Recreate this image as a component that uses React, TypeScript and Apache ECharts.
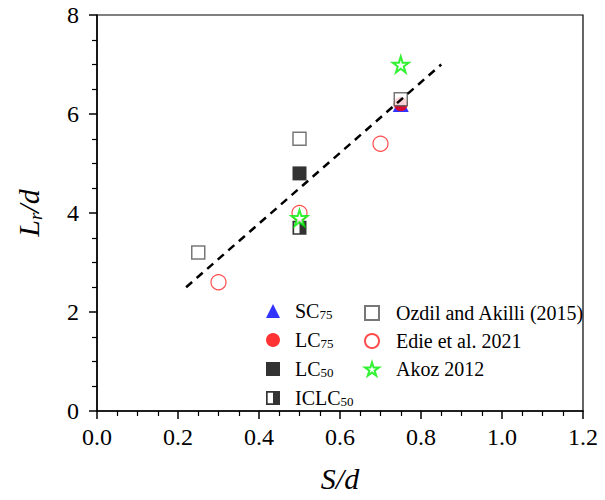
import React, { useEffect, useRef } from 'react';
import * as echarts from 'echarts';

// ---- data ----
const sc75: number[][] = [[0.75, 6.2]];
const lc75: number[][] = [[0.75, 6.2]];
const lc50: number[][] = [[0.5, 4.8]];
const iclc50: number[][] = [[0.5, 3.7]];
const ozdil: number[][] = [[0.25, 3.2], [0.5, 5.5], [0.75, 6.3]];
const edie: number[][] = [[0.3, 2.6], [0.5, 4.0], [0.7, 5.4]];
const akoz: number[][] = [[0.5, 3.9], [0.75, 7.0]];
const fitLine: number[][] = [[0.22, 2.5], [0.85, 7.0]];

const leftLegend = ['SC75', 'LC75', 'LC50', 'ICLC50'];
const rightLegend = ['Ozdil and Akilli (2015)', 'Edie et al. 2021', 'Akoz 2012'];
const legendLabels: Record<string, string> = {
  SC75: '{n|SC}{s|75}',
  LC75: '{n|LC}{s|75}',
  LC50: '{n|LC}{s|50}',
  ICLC50: '{n|ICLC}{s|50}',
  'Ozdil and Akilli (2015)': '{n|Ozdil and Akilli (2015)}',
  'Edie et al. 2021': '{n|Edie et al. 2021}',
  'Akoz 2012': '{n|Akoz 2012}',
};

const FONT = '"Liberation Serif", "Times New Roman", serif';
const HALF_SQ = 'path://M0,0 L10,0 L10,10 L0,10 Z M1.2,1.2 L1.2,8.8 L5,8.8 L5,1.2 Z';
const STAR = 'path://M50,0 L61,35 L98,35 L68,57 L79,91 L50,70 L21,91 L32,57 L2,35 L39,35 Z';

export default function App() {
  const ref = useRef<HTMLDivElement>(null);
  useEffect(() => {
    if (!ref.current) return;
    const chart = echarts.init(ref.current, null, { renderer: 'svg' });
    const legendText = (pad: number) => ({
      fontFamily: FONT,
      fontSize: 20,
      color: '#000',
      padding: [0, 0, 0, pad],
      rich: {
        n: { fontFamily: FONT, fontSize: 20, color: '#000', lineHeight: 20 },
        s: { fontFamily: FONT, fontSize: 13, color: '#000', verticalAlign: 'bottom', lineHeight: 20, padding: [11, 0, 0, 0] },
      },
    });
    chart.setOption({
      animation: false,
      backgroundColor: '#fff',
      grid: { left: 97, right: 22, top: 15, bottom: 89, show: true, borderColor: '#000', borderWidth: 1.2 },
      xAxis: {
        type: 'value', min: 0, max: 1.2, interval: 0.2,
        axisLine: { show: true, lineStyle: { color: '#000', width: 1.5 } },
        axisTick: { show: true, length: 8, lineStyle: { color: '#000', width: 1.5 } },
        minorTick: { show: true, splitNumber: 4, length: 5, lineStyle: { color: '#000', width: 1.2 } },
        splitLine: { show: false },
        axisLabel: { fontFamily: FONT, fontSize: 24, color: '#000', margin: 14, formatter: (v: number) => v.toFixed(1) },
        name: '{i|S/d}', nameLocation: 'middle', nameGap: 52,
        nameTextStyle: { rich: { i: { fontFamily: FONT, fontStyle: 'italic', fontSize: 30, color: '#000' } } },
      },
      yAxis: {
        type: 'value', min: 0, max: 8, interval: 2,
        axisLine: { show: true, lineStyle: { color: '#000', width: 1.5 } },
        axisTick: { show: true, length: 8, lineStyle: { color: '#000', width: 1.5 } },
        minorTick: { show: true, splitNumber: 4, length: 5, lineStyle: { color: '#000', width: 1.2 } },
        splitLine: { show: false },
        axisLabel: { fontFamily: FONT, fontSize: 24, color: '#000', margin: 18 },
        name: '{i|L}{r|r}{i|/d}', nameLocation: 'middle', nameGap: 52,
        nameTextStyle: {
          rich: {
            i: { fontFamily: FONT, fontStyle: 'italic', fontSize: 30, color: '#000', lineHeight: 34 },
            r: { fontFamily: FONT, fontStyle: 'italic', fontSize: 19, color: '#000', verticalAlign: 'bottom', lineHeight: 34, padding: [12, 0, 0, 0] },
          },
        },
      },
      legend: [
        {
          orient: 'vertical', left: 261, top: 292, itemWidth: 14, itemHeight: 14, itemGap: 5,
          data: leftLegend, selectedMode: false,
          formatter: (n: string) => legendLabels[n], textStyle: legendText(10),
        },
        {
          orient: 'vertical', left: 359, top: 298, itemWidth: 14, itemHeight: 14, itemGap: 8,
          data: rightLegend, selectedMode: false,
          formatter: (n: string) => legendLabels[n], textStyle: legendText(12),
        },
      ],
      series: [
        { name: 'SC75', type: 'scatter', data: sc75, symbol: 'triangle', symbolSize: 16, itemStyle: { color: '#0000ff' }, z: 2 },
        { name: 'LC75', type: 'scatter', data: lc75, symbol: 'circle', symbolSize: 14, itemStyle: { color: '#ff0000' }, z: 3 },
        { name: 'LC50', type: 'scatter', data: lc50, symbol: 'rect', symbolSize: 14, itemStyle: { color: '#000' }, z: 3 },
        { name: 'ICLC50', type: 'scatter', data: iclc50, symbol: HALF_SQ, symbolSize: 14, itemStyle: { color: '#000' }, z: 3 },
        { name: 'Edie et al. 2021', type: 'scatter', data: edie, symbol: 'circle', symbolSize: 15, itemStyle: { color: '#fff', borderColor: '#ff2020', borderWidth: 1.2 }, z: 4 },
        { name: 'Akoz 2012', type: 'scatter', data: akoz, symbol: STAR, symbolSize: 16, itemStyle: { color: '#fff', borderColor: '#00ee00', borderWidth: 2 }, z: 5 },
        { name: 'Ozdil and Akilli (2015)', type: 'scatter', data: ozdil, symbol: 'rect', symbolSize: 13, itemStyle: { color: '#fff', borderColor: '#555', borderWidth: 1.5 }, z: 6 },
        { name: 'fit', type: 'line', data: fitLine, symbol: 'none', lineStyle: { color: '#000', width: 2.5, type: [8, 6] }, z: 7 },
      ],
    });
    return () => chart.dispose();
  }, []);
  return <div ref={ref} style={{ position: 'fixed', left: 0, top: 0, width: 605, height: 500 }} />;
}
